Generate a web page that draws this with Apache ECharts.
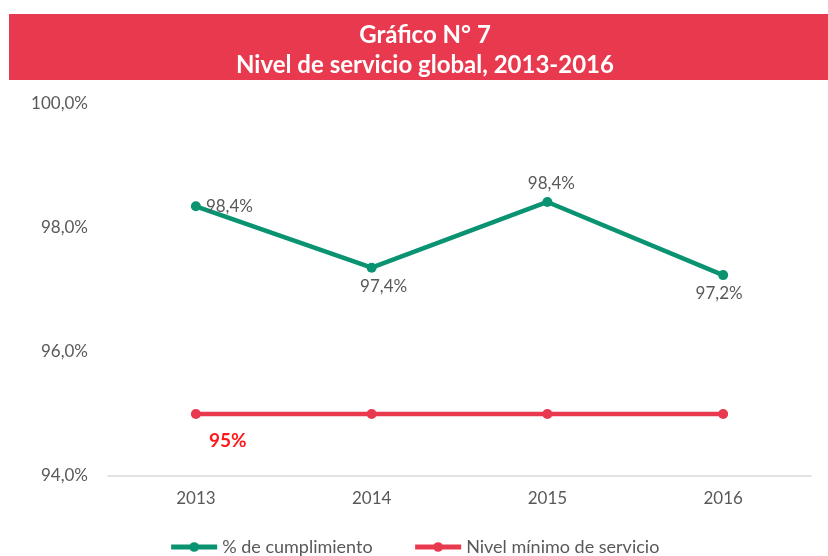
<!DOCTYPE html>
<html>
<head>
<meta charset="utf-8">
<script src="https://cdn.jsdelivr.net/npm/echarts@6/dist/echarts.min.js"></script>
<style>
  html, body { margin: 0; padding: 0; background: #fff; }
  #chart { width: 828px; height: 556px; }
</style>
</head>
<body>
<div id="chart"></div>
<script>
// --- data ---
const years = ['2013', '2014', '2015', '2016'];
const cumplimiento = [98.35, 97.36, 98.42, 97.24];
const cumplimientoLabels = ['98,4%', '97,4%', '98,4%', '97,2%'];
const nivelMinimo = [95, 95, 95, 95];
const seriesNames = ['% de cumplimiento', 'Nivel mínimo de servicio'];
const titleLines = ['Gráfico N° 7', 'Nivel de servicio global, 2013-2016'];

// colours
const GREEN = '#0A9370';
const RED = '#E8394F';
const TEXT = '#595959';
const FONT = 'Lato, "Open Sans", sans-serif';

const chart = echarts.init(document.getElementById('chart'));

// label placement per point (right, bottom, top, bottom)
const greenPos = ['right', 'bottom', 'top', 'bottom'];
const greenOffset = [[0, 0], [12, 0], [4, 0], [-4, 0]];

const option = {
  backgroundColor: '#fff',
  animation: false,
  graphic: [
    {
      type: 'rect',
      shape: { x: 9, y: 14, width: 819, height: 66 },
      style: { fill: RED }
    },
    {
      type: 'text',
      x: 425,
      y: 50,
      style: {
        text: titleLines.join('\n'),
        fill: '#fff',
        font: 'bold 24px ' + FONT,
        lineHeight: 30,
        align: 'center',
        verticalAlign: 'middle'
      }
    }
  ],
  grid: { left: 108, right: 17, top: 104, bottom: 80 },
  legend: {
    bottom: -5,
    left: 'center',
    itemWidth: 46,
    itemHeight: 12,
    itemGap: 40,
    lineStyle: { width: 5 },
    textStyle: { color: TEXT, fontSize: 18, fontFamily: FONT },
    data: seriesNames
  },
  xAxis: {
    type: 'category',
    data: years,
    boundaryGap: true,
    axisLine: { lineStyle: { color: '#D9D9D9', width: 1.5 } },
    axisTick: { show: false },
    axisLabel: { color: TEXT, fontSize: 17, fontFamily: FONT, margin: 14 }
  },
  yAxis: {
    type: 'value',
    min: 94,
    max: 100,
    interval: 2,
    axisLine: { show: false },
    axisTick: { show: false },
    splitLine: { show: false },
    axisLabel: {
      color: TEXT,
      fontSize: 17,
      fontFamily: FONT,
      margin: 20,
      formatter: (v) => v.toFixed(1).replace('.', ',') + '%'
    }
  },
  series: [
    {
      name: seriesNames[0],
      type: 'line',
      data: cumplimiento.map((v, i) => ({
        value: v,
        label: {
          show: true,
          position: greenPos[i],
          offset: greenOffset[i],
          formatter: cumplimientoLabels[i]
        }
      })),
      symbol: 'circle',
      symbolSize: 10,
      lineStyle: { color: GREEN, width: 4.5 },
      itemStyle: { color: GREEN },
      label: { color: TEXT, fontSize: 17, fontFamily: FONT, distance: 5 }
    },
    {
      name: seriesNames[1],
      type: 'line',
      data: nivelMinimo.map((v, i) => i === 0 ? {
        value: v,
        label: {
          show: true,
          position: 'bottom',
          offset: [32, 7],
          formatter: '95%',
          color: '#FF1A1A',
          fontSize: 19,
          fontWeight: 'bold',
          fontFamily: FONT
        }
      } : v),
      symbol: 'circle',
      symbolSize: 10,
      lineStyle: { color: RED, width: 4.5 },
      itemStyle: { color: RED }
    }
  ]
};

chart.setOption(option);
</script>
</body>
</html>
